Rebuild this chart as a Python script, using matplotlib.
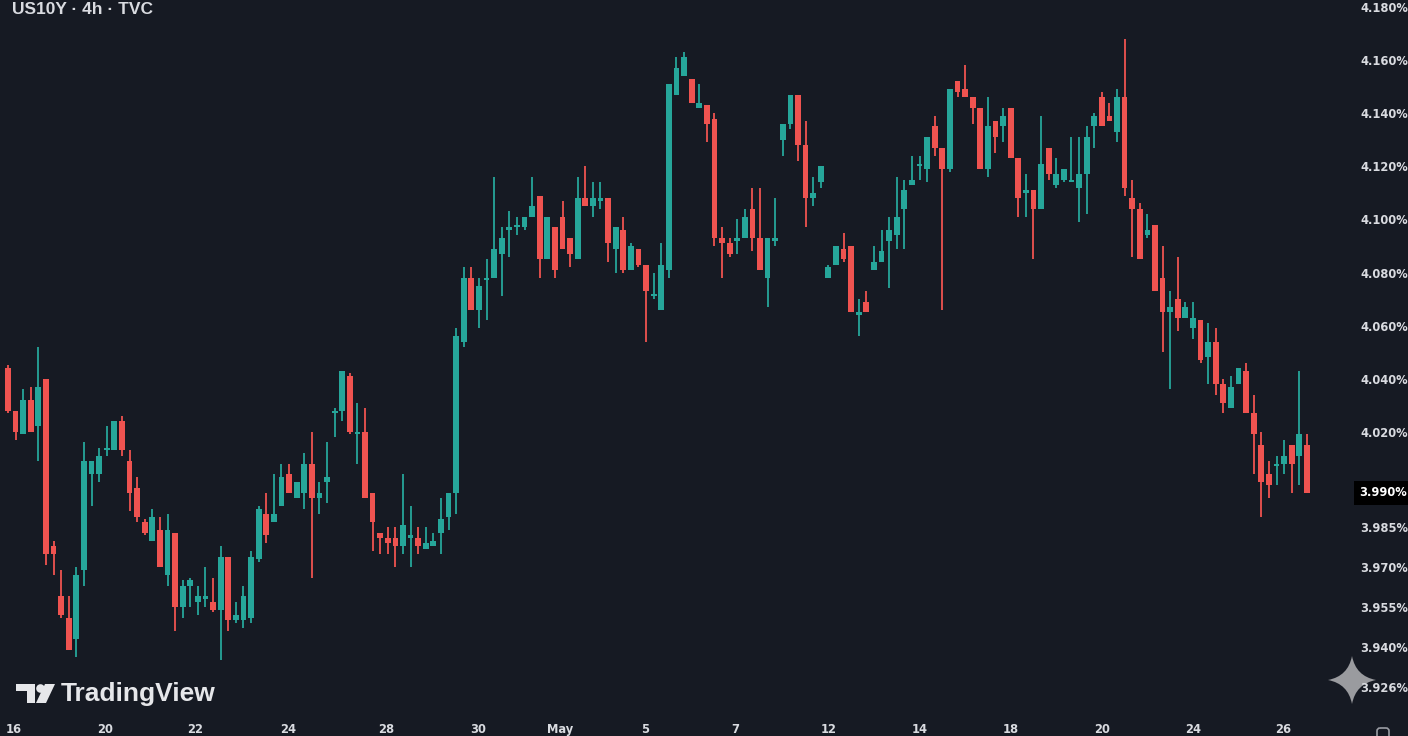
import numpy as np
import matplotlib
matplotlib.use("Agg")
import matplotlib.pyplot as plt
import matplotlib.transforms as mtransforms
from matplotlib.path import Path
from matplotlib.patches import PathPatch, Rectangle, Polygon, Circle, FancyBboxPatch

# ---------------- data (US10Y, 4h candles) ----------------
opens = [4.044, 4.028, 4.019, 4.032, 4.022, 4.040, 3.977, 3.958, 3.950, 3.942,
         3.968, 4.004, 4.004, 4.013, 4.013, 4.024, 4.009, 3.999, 3.986, 3.979,
         3.983, 3.966, 3.982, 3.954, 3.962, 3.956, 3.957, 3.956, 3.953, 3.973,
         3.949, 3.949, 3.950, 3.972, 3.989, 3.986, 3.992, 4.004, 3.995, 3.997,
         4.008, 3.995, 4.001, 4.027, 4.028, 4.041, 4.019, 4.020, 3.997, 3.982,
         3.980, 3.980, 3.977, 3.980, 3.980, 3.976, 3.977, 3.982, 3.988, 3.997,
         4.054, 4.078, 4.066, 4.077, 4.078, 4.087, 4.096, 4.097, 4.097, 4.101,
         4.109, 4.085, 4.097, 4.101, 4.093, 4.085, 4.108, 4.105, 4.107, 4.108,
         4.089, 4.096, 4.081, 4.089, 4.083, 4.071, 4.066, 4.081, 4.147, 4.154,
         4.153, 4.142, 4.143, 4.138, 4.093, 4.091, 4.092, 4.093, 4.104, 4.093,
         4.078, 4.092, 4.130, 4.136, 4.147, 4.128, 4.108, 4.114, 4.078, 4.083,
         4.089, 4.090, 4.064, 4.069, 4.081, 4.084, 4.092, 4.094, 4.104, 4.113,
         4.120, 4.119, 4.135, 4.127, 4.119, 4.152, 4.149, 4.146, 4.142, 4.119,
         4.137, 4.135, 4.142, 4.123, 4.110, 4.111, 4.104, 4.127, 4.113, 4.115,
         4.114, 4.112, 4.117, 4.135, 4.146, 4.139, 4.133, 4.146, 4.108, 4.104,
         4.094, 4.098, 4.078, 4.065, 4.070, 4.063, 4.059, 4.062, 4.048, 4.054,
         4.038, 4.029, 4.038, 4.043, 4.027, 4.015, 4.004, 4.007, 4.008, 4.015,
         4.011, 4.015]
highs = [4.045, 4.028, 4.036, 4.037, 4.052, 4.040, 3.979, 3.968, 3.958, 3.969,
         4.016, 4.009, 4.014, 4.022, 4.024, 4.026, 4.013, 4.003, 3.987, 3.991,
         3.988, 3.989, 3.982, 3.964, 3.965, 3.962, 3.969, 3.965, 3.977, 3.973,
         3.956, 3.962, 3.975, 3.992, 3.997, 4.004, 4.008, 4.008, 4.001, 4.012,
         4.020, 4.001, 4.016, 4.029, 4.043, 4.042, 4.031, 4.029, 3.997, 3.982,
         3.984, 3.984, 4.004, 3.992, 3.984, 3.984, 3.982, 3.995, 3.997, 4.059,
         4.082, 4.082, 4.078, 4.085, 4.116, 4.097, 4.103, 4.101, 4.101, 4.116,
         4.109, 4.101, 4.097, 4.107, 4.093, 4.116, 4.120, 4.114, 4.114, 4.108,
         4.097, 4.101, 4.091, 4.089, 4.083, 4.080, 4.091, 4.151, 4.161, 4.163,
         4.153, 4.151, 4.143, 4.140, 4.097, 4.093, 4.100, 4.104, 4.112, 4.112,
         4.093, 4.108, 4.136, 4.147, 4.147, 4.137, 4.116, 4.120, 4.083, 4.090,
         4.095, 4.090, 4.070, 4.073, 4.090, 4.096, 4.101, 4.116, 4.115, 4.124,
         4.124, 4.131, 4.139, 4.127, 4.149, 4.152, 4.158, 4.146, 4.142, 4.146,
         4.137, 4.142, 4.142, 4.123, 4.117, 4.111, 4.139, 4.127, 4.123, 4.119,
         4.131, 4.131, 4.135, 4.140, 4.148, 4.144, 4.149, 4.168, 4.115, 4.106,
         4.102, 4.098, 4.090, 4.073, 4.086, 4.069, 4.069, 4.062, 4.061, 4.059,
         4.040, 4.041, 4.044, 4.046, 4.034, 4.020, 4.009, 4.011, 4.017, 4.015,
         4.043, 4.019]
lows = [4.027, 4.017, 4.019, 4.020, 4.009, 3.970, 3.966, 3.950, 3.938, 3.935,
        3.962, 3.992, 4.001, 4.011, 4.013, 4.011, 3.990, 3.986, 3.981, 3.979,
        3.969, 3.962, 3.945, 3.950, 3.954, 3.951, 3.954, 3.952, 3.934, 3.945,
        3.948, 3.946, 3.948, 3.971, 3.978, 3.986, 3.992, 3.997, 3.995, 3.991,
        3.965, 3.989, 3.993, 4.018, 4.024, 4.019, 4.008, 3.995, 3.975, 3.974,
        3.974, 3.969, 3.974, 3.969, 3.974, 3.976, 3.977, 3.974, 3.983, 3.989,
        4.052, 4.066, 4.059, 4.062, 4.078, 4.071, 4.086, 4.094, 4.096, 4.101,
        4.078, 4.085, 4.078, 4.089, 4.082, 4.085, 4.105, 4.101, 4.104, 4.084,
        4.080, 4.080, 4.081, 4.082, 4.054, 4.070, 4.066, 4.078, 4.147, 4.154,
        4.144, 4.142, 4.129, 4.090, 4.078, 4.086, 4.087, 4.093, 4.088, 4.081,
        4.067, 4.090, 4.124, 4.134, 4.122, 4.097, 4.105, 4.112, 4.078, 4.083,
        4.084, 4.065, 4.056, 4.065, 4.081, 4.084, 4.074, 4.089, 4.089, 4.113,
        4.115, 4.114, 4.124, 4.066, 4.118, 4.146, 4.146, 4.136, 4.119, 4.116,
        4.125, 4.129, 4.123, 4.101, 4.101, 4.085, 4.104, 4.115, 4.112, 4.114,
        4.114, 4.099, 4.102, 4.127, 4.135, 4.137, 4.129, 4.109, 4.086, 4.085,
        4.093, 4.073, 4.050, 4.036, 4.058, 4.063, 4.055, 4.046, 4.038, 4.034,
        4.027, 4.029, 4.038, 4.027, 4.004, 3.988, 3.995, 4.000, 4.004, 3.997,
        4.000, 3.997]
closes = [4.028, 4.020, 4.032, 4.020, 4.037, 3.974, 3.974, 3.951, 3.938, 3.966,
          4.009, 4.009, 4.011, 4.014, 4.024, 4.013, 3.997, 3.988, 3.982, 3.988,
          3.969, 3.983, 3.954, 3.962, 3.964, 3.958, 3.958, 3.953, 3.973, 3.949,
          3.951, 3.958, 3.973, 3.991, 3.981, 3.989, 4.003, 3.997, 4.001, 4.008,
          3.995, 3.997, 4.003, 4.028, 4.043, 4.020, 4.020, 3.995, 3.986, 3.980,
          3.978, 3.977, 3.985, 3.981, 3.977, 3.978, 3.979, 3.987, 3.997, 4.056,
          4.078, 4.066, 4.075, 4.078, 4.089, 4.093, 4.097, 4.098, 4.101, 4.105,
          4.085, 4.101, 4.081, 4.089, 4.087, 4.108, 4.105, 4.108, 4.108, 4.091,
          4.097, 4.081, 4.090, 4.083, 4.073, 4.072, 4.083, 4.151, 4.157, 4.161,
          4.144, 4.144, 4.136, 4.093, 4.091, 4.087, 4.093, 4.101, 4.093, 4.081,
          4.093, 4.093, 4.136, 4.147, 4.128, 4.108, 4.110, 4.120, 4.082, 4.090,
          4.085, 4.065, 4.065, 4.065, 4.084, 4.088, 4.096, 4.101, 4.111, 4.115,
          4.121, 4.131, 4.127, 4.119, 4.149, 4.148, 4.146, 4.142, 4.119, 4.135,
          4.131, 4.139, 4.123, 4.108, 4.111, 4.104, 4.121, 4.117, 4.117, 4.119,
          4.115, 4.117, 4.131, 4.139, 4.135, 4.137, 4.146, 4.112, 4.104, 4.085,
          4.096, 4.073, 4.065, 4.067, 4.063, 4.067, 4.063, 4.047, 4.054, 4.038,
          4.031, 4.037, 4.044, 4.027, 4.019, 4.001, 4.000, 4.008, 4.011, 4.008,
          4.019, 3.997]

xtick_pos = [0.7, 12.8, 24.7, 36.9, 49.8, 61.9, 72.7, 83.9, 95.8, 108.0,
             120.0, 132.0, 144.0, 156.0, 167.9]
xtick_labels = ["16", "20", "22", "24", "28", "30", "May", "5", "7", "12",
                "14", "18", "20", "24", "26"]
ytick_pos = [4.180, 4.160, 4.140, 4.120, 4.100, 4.080, 4.060, 4.040, 4.020,
             3.984, 3.969, 3.954, 3.939, 3.924]
ytick_labels = ["4.180%", "4.160%", "4.140%", "4.120%", "4.100%", "4.080%",
                "4.060%", "4.040%", "4.020%", "3.985%", "3.970%", "3.955%",
                "3.940%", "3.926%"]
last_price_label = "3.990%"
title = "US10Y · 4h · TVC"

# ---------------- style ----------------
BG = "#161a23"
UP = "#26a69a"
DOWN = "#ef5350"
TXT = "#d9dbe0"
W, H = 1408, 736

fig = plt.figure(figsize=(W / 100, H / 100), dpi=100, facecolor=BG)

# decoration layer in pixel coordinates (below the chart)
deco = fig.add_axes([0, 0, 1, 1])
deco.set_xlim(0, W)
deco.set_ylim(H, 0)
deco.axis("off")
deco.set_zorder(0)

# main chart
ax = fig.add_axes([0, (H - 718) / H, 1350 / W, 718 / H])
ax.set_zorder(1)
ax.patch.set_visible(False)

o = np.array(opens); h = np.array(highs); l = np.array(lows); c = np.array(closes)
x = np.arange(len(o))
up = c >= o
cols = np.where(up, UP, DOWN)

ax.vlines(x, l, h, colors=cols, linewidth=1.3, zorder=2)
bottom = np.minimum(o, c)
height = np.maximum(np.abs(c - o), 0.0004)
ax.bar(x, height, bottom=bottom, width=0.76, color=cols, linewidth=0, zorder=3)

step = 7.596
ax.set_xlim(-8 / step, (1350 - 8) / step)
ax.set_ylim(4.18264 - 718 * 0.00037665, 4.18264)

for s in ax.spines.values():
    s.set_visible(False)
ax.yaxis.tick_right()
ax.set_yticks(ytick_pos)
ax.set_yticklabels(ytick_labels)
ax.set_xticks(xtick_pos)
ax.set_xticklabels(xtick_labels)
ax.tick_params(axis="y", length=0, pad=7.5, labelsize=8.3, labelcolor=TXT)
ax.tick_params(axis="x", length=0, pad=3.5, labelsize=8.3, labelcolor=TXT)
for t in ax.get_yticklabels() + ax.get_xticklabels():
    t.set_fontweight("bold")

# last price label
blend = mtransforms.blended_transform_factory(ax.transAxes, ax.transData)
ax.text(1359 / 1350, c[-1], last_price_label, transform=blend, va="center", ha="left",
        fontsize=8.3, fontweight="bold", color="white", clip_on=False, zorder=5,
        bbox=dict(boxstyle="square,pad=0.45", fc="black", ec="none"))

# title at the top edge
deco.text(12, 2, title, fontsize=12.5, fontweight="bold", color=TXT,
          family="Liberation Sans", va="top", ha="left")

# TradingView logo
logo_col = "#e6e7ea"
deco.add_patch(Rectangle((16, 684), 19, 6.5, color=logo_col, lw=0))
deco.add_patch(Rectangle((27, 684), 8, 19, color=logo_col, lw=0))
deco.add_patch(Circle((40.5, 688.5), 4.3, color=logo_col, lw=0))
deco.add_patch(Polygon([(45, 684), (55, 684), (46, 703), (36, 703)], closed=True,
                       color=logo_col, lw=0))
deco.text(61, 701.5, "TradingView", fontsize=19, fontweight="bold",
          family="Liberation Sans", color=logo_col, va="baseline", ha="left")

# sparkle watermark
cx, cy, r = 1352, 680, 24
k = 0.16 * r
verts = [(cx, cy - r), (cx + k, cy - k), (cx + r, cy), (cx + k, cy + k), (cx, cy + r),
         (cx - k, cy + k), (cx - r, cy), (cx - k, cy - k), (cx, cy - r), (cx, cy - r)]
codes = [Path.MOVETO, Path.CURVE3, Path.CURVE3, Path.CURVE3, Path.CURVE3,
         Path.CURVE3, Path.CURVE3, Path.CURVE3, Path.CURVE3, Path.CLOSEPOLY]
deco.add_patch(PathPatch(Path(verts, codes), fc="#9a9b9f", ec="none"))

# small icon bottom right
deco.add_patch(FancyBboxPatch((1377, 728), 12, 12, boxstyle="round,pad=0,rounding_size=3",
                              fc="none", ec="#9a9ca3", lw=1.2))

fig.savefig("out.png", dpi=100, facecolor=BG)
